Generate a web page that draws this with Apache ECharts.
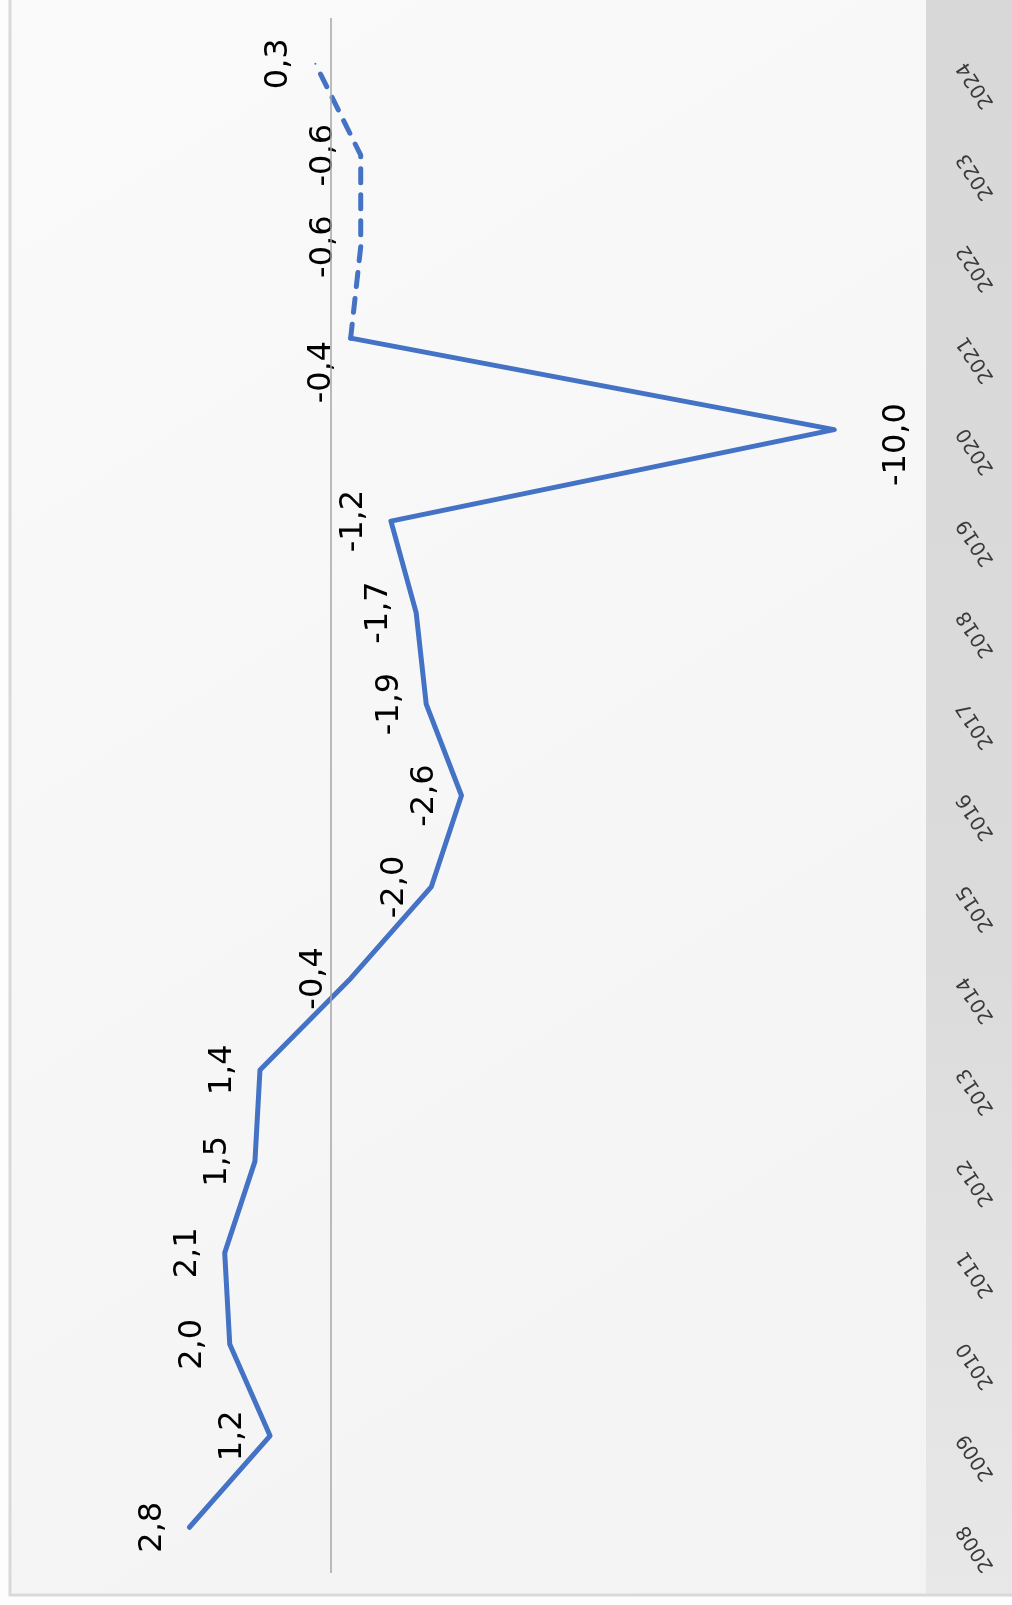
<!DOCTYPE html>
<html>
<head>
<meta charset="utf-8">
<script src="https://cdn.jsdelivr.net/npm/echarts@6/dist/echarts.min.js"></script>
<style>
html,body{margin:0;padding:0;background:#fdfdfd;}
#c{width:1012px;height:1605px;}
</style>
</head>
<body>
<div id="c"></div>
<script>
// ---- data ----
const years = ['2008','2009','2010','2011','2012','2013','2014','2015','2016','2017','2018','2019','2020','2021','2022','2023','2024'];
const actualValues = [2.8, 1.2, 2.0, 2.1, 1.5, 1.4, -0.4, -2.0, -2.6, -1.9, -1.7, -1.2, -10.0, -0.4, null, null, null];
const forecastValues = [null, null, null, null, null, null, null, null, null, null, null, null, null, -0.4, -0.6, -0.6, 0.3];

// label placement tweaks (styling, not data)
const labelOverrides = {
  '2020': { position: [63, 16] },
  '2021': { position: [-28, 35] }
};

const fmt = v => v.toFixed(1).replace('.', ',');
const valOf = p => (Array.isArray(p.value) ? p.value[0] : p.value);

const labelBase = {
  show: true,
  position: 'left',
  distance: 36,
  rotate: 90,
  align: 'center',
  verticalAlign: 'middle',
  fontSize: 32,
  fontFamily: 'DejaVu Sans',
  color: '#000000',
  formatter: p => { const v = valOf(p); return (v == null || isNaN(v)) ? '' : fmt(v); }
};

const actualData = actualValues.map((v, i) => {
  if (v != null && labelOverrides[years[i]]) {
    return { value: v, label: labelOverrides[years[i]] };
  }
  return v;
});
// forecast: first point shares its label with the actual series
const forecastData = forecastValues.map((v, i) => {
  if (v != null && actualValues[i] != null) {
    return { value: v, label: { show: false } };
  }
  return v;
});

const chart = echarts.init(document.getElementById('c'), null, { renderer: 'canvas' });
chart.setOption({
  animation: false,
  backgroundColor: 'transparent',
  graphic: [
    { type: 'rect', z: -10, shape: { x: 10, y: 0, width: 1002, height: 1595 }, style: { fill: new echarts.graphic.LinearGradient(0, 0, 1, 1, [{ offset: 0, color: '#fafafa' }, { offset: 1, color: '#f3f3f3' }]) } },
    { type: 'rect', z: -9, shape: { x: 926, y: 0, width: 86, height: 1595 }, style: { fill: new echarts.graphic.LinearGradient(0, 0, 0, 1, [{ offset: 0, color: '#d8d8d8' }, { offset: 0.6, color: '#dbdbdb' }, { offset: 1, color: '#e8e8e8' }]) } },
    { type: 'rect', z: -8, shape: { x: 10, y: -10, width: 1010, height: 1605 }, style: { fill: 'none', stroke: '#d9d9d9', lineWidth: 3 } }
  ],
  grid: { left: 129, right: 77, top: 18, bottom: 32, containLabel: false },
  xAxis: {
    type: 'value',
    inverse: true,
    min: -12,
    max: 4,
    interval: 2,
    show: false
  },
  yAxis: {
    type: 'category',
    data: years,
    position: 'right',
    boundaryGap: true,
    axisLine: { show: false, onZero: false },
    axisTick: { show: false },
    splitLine: { show: false },
    axisLabel: {
      interval: 0,
      rotate: 123,
      align: 'right',
      verticalAlign: 'middle',
      margin: 27,
      fontSize: 20,
      fontFamily: 'DejaVu Sans',
      color: '#3a3a3a'
    }
  },
  series: [
    {
      name: 'zero',
      type: 'line',
      z: 1,
      data: [],
      markLine: {
        silent: true,
        symbol: 'none',
        label: { show: false },
        lineStyle: { color: '#a6a6a6', width: 1.5, type: 'solid' },
        data: [{ xAxis: 0 }]
      }
    },
    {
      name: 'actual',
      type: 'line',
      z: 3,
      data: actualData,
      symbol: 'circle',
      symbolSize: 2,
      itemStyle: { color: '#4472C4' },
      lineStyle: { color: '#4472C4', width: 5, cap: 'round', join: 'round' },
      label: labelBase
    },
    {
      name: 'forecast',
      type: 'line',
      z: 3,
      data: forecastData,
      symbol: 'circle',
      symbolSize: 2,
      itemStyle: { color: '#4472C4' },
      lineStyle: { color: '#4472C4', width: 5, type: [14, 12], cap: 'round', join: 'round' },
      label: labelBase
    }
  ]
});
</script>
</body>
</html>
